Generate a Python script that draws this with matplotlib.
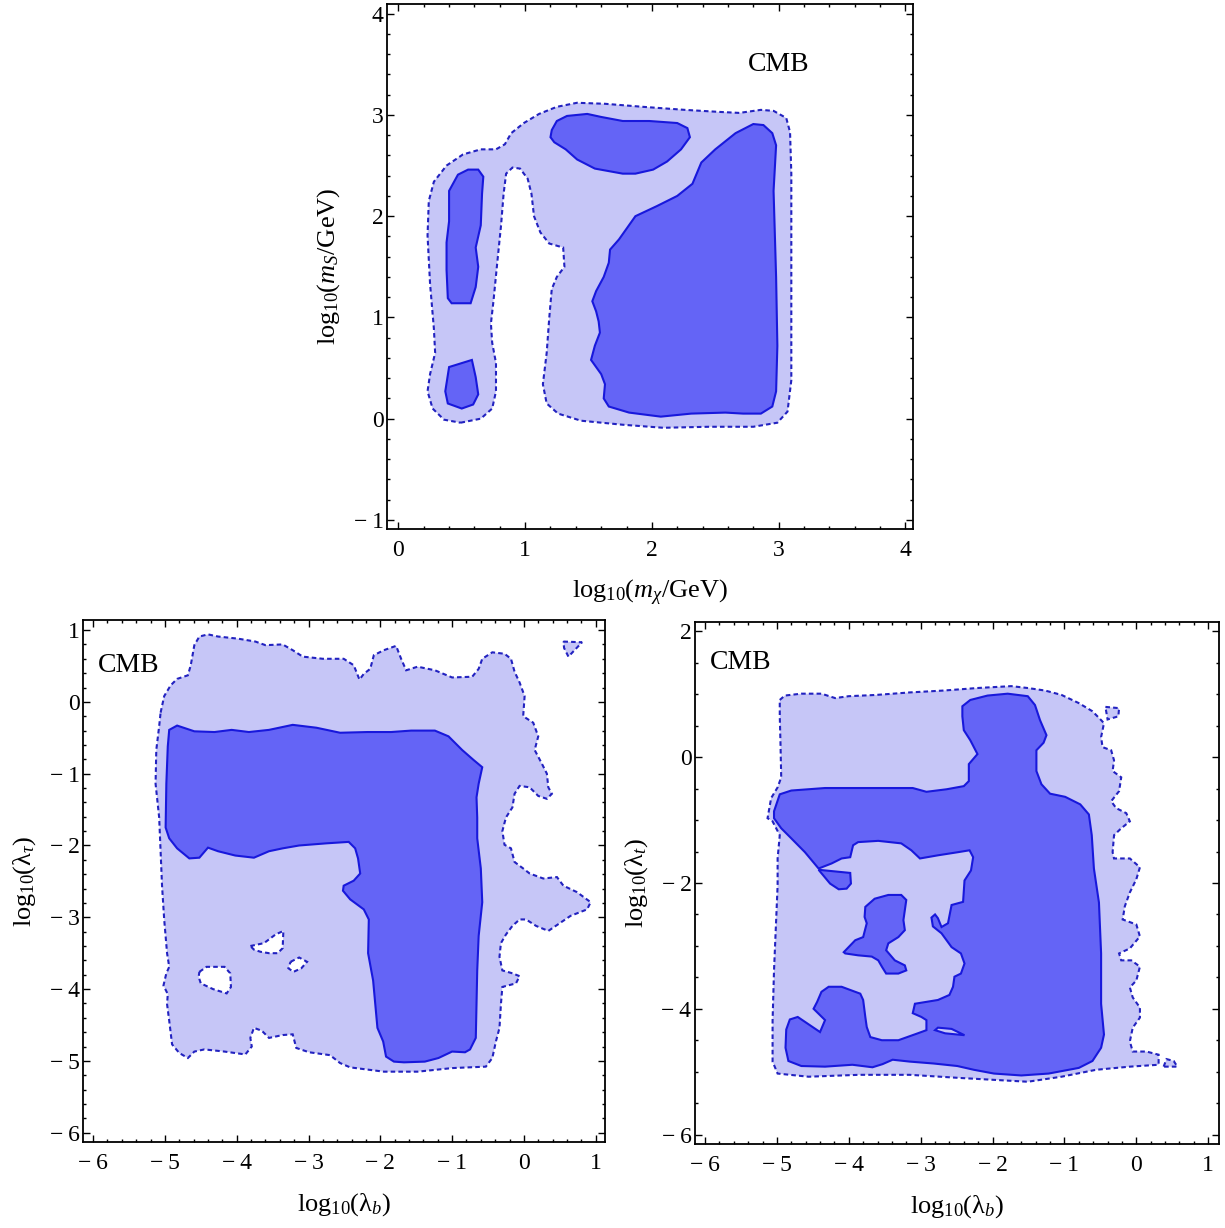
import numpy as np
import matplotlib
matplotlib.use("Agg")
import matplotlib.pyplot as plt
from matplotlib.ticker import MultipleLocator, FuncFormatter

plt.rcParams['font.family'] = ['Liberation Serif', 'DejaVu Serif']
plt.rcParams['mathtext.fontset'] = 'custom'
plt.rcParams['mathtext.rm'] = 'Liberation Serif'
plt.rcParams['mathtext.it'] = 'Liberation Serif:italic'

LIGHT = '#c6c6f7'
DARK = '#6464f6'
EDGE_SOLID = '#1818dc'
EDGE_DASH = '#2222c0'

# ---- top panel: log10(m_chi/GeV) vs log10(m_S/GeV) ----
top_outer = [(0.49,-0.04),(0.65,0.00),(0.74,0.10),(0.77,0.27),(0.77,0.55),(0.74,0.75),(0.73,0.94),
             (0.75,1.16),(0.78,1.54),(0.81,1.91),(0.83,2.22),(0.85,2.42),(0.90,2.48),(0.96,2.47),
             (1.02,2.37),(1.05,2.22),(1.07,2.00),(1.12,1.84),(1.19,1.73),(1.30,1.69),(1.31,1.50),
             (1.25,1.40),(1.21,1.28),(1.19,0.99),(1.17,0.65),(1.14,0.34),(1.17,0.15),(1.26,0.05),
             (1.44,-0.02),(1.77,-0.06),(2.09,-0.09),(2.45,-0.08),(2.80,-0.08),(2.99,-0.04),(3.07,0.07),
             (3.10,0.38),(3.10,1.06),(3.10,1.74),(3.10,2.42),(3.09,2.83),(3.06,2.97),(2.96,3.04),
             (2.86,3.05),(2.69,3.02),(2.53,3.03),(2.26,3.05),(1.93,3.08),(1.63,3.11),(1.41,3.12),
             (1.25,3.08),(1.11,3.01),(0.99,2.92),(0.89,2.82),(0.84,2.71),(0.77,2.66),(0.65,2.66),
             (0.51,2.61),(0.38,2.50),(0.28,2.34),(0.24,2.15),(0.23,1.81),(0.25,1.33),(0.28,0.89),
             (0.29,0.65),(0.25,0.44),(0.23,0.27),(0.27,0.10),(0.36,-0.01)]
top_inner_a = [(0.40,2.25),(0.47,2.41),(0.55,2.46),(0.63,2.46),(0.67,2.39),(0.66,2.22),(0.65,1.91),
               (0.61,1.69),(0.63,1.50),(0.61,1.30),(0.57,1.14),(0.42,1.14),(0.39,1.19),(0.38,1.47),
               (0.38,1.74),(0.40,1.95),(0.40,2.18)]
top_inner_b = [(0.40,0.51),(0.58,0.58),(0.61,0.41),(0.63,0.24),(0.59,0.14),(0.50,0.10),(0.39,0.15),
               (0.37,0.27),(0.39,0.43)]
top_inner_c = [(1.21,2.85),(1.25,2.94),(1.33,2.99),(1.49,3.01),(1.60,2.98),(1.77,2.94),(1.98,2.94),
               (2.20,2.92),(2.28,2.87),(2.30,2.78),(2.23,2.66),(2.12,2.54),(2.01,2.46),(1.87,2.42),
               (1.77,2.42),(1.55,2.47),(1.41,2.56),(1.32,2.66),(1.23,2.73),(1.20,2.78)]
top_inner_d = [(1.67,1.67),(1.74,1.77),(1.87,2.00),(2.04,2.10),(2.20,2.20),(2.32,2.32),(2.39,2.53),
               (2.50,2.66),(2.66,2.82),(2.80,2.91),(2.88,2.90),(2.95,2.82),(2.98,2.70),(2.96,2.25),
               (2.98,1.40),(2.99,0.72),(2.98,0.27),(2.95,0.12),(2.86,0.05),(2.72,0.05),(2.58,0.06),
               (2.31,0.05),(2.07,0.02),(1.82,0.06),(1.66,0.12),(1.62,0.20),(1.63,0.34),(1.60,0.44),
               (1.56,0.51),(1.52,0.58),(1.55,0.72),(1.59,0.85),(1.58,0.96),(1.56,1.06),(1.53,1.16),
               (1.56,1.26),(1.62,1.40),(1.66,1.54)]

# ---- bottom left panel: log10(lambda_b) vs log10(lambda_tau) ----
bl_outer = [(-5.06,-0.15),(-5.01,0.08),(-4.92,0.23),(-4.83,0.32),(-4.68,0.37),(-4.64,0.51),(-4.59,0.79),
            (-4.52,0.91),(-4.40,0.94),(-4.26,0.91),(-3.98,0.88),(-3.74,0.84),(-3.60,0.79),(-3.36,0.80),
            (-3.22,0.72),(-3.08,0.63),(-2.80,0.60),(-2.51,0.60),(-2.37,0.51),(-2.29,0.31),(-2.23,0.39),
            (-2.14,0.46),(-2.09,0.65),(-1.95,0.72),(-1.78,0.78),(-1.71,0.60),(-1.64,0.44),(-1.48,0.49),
            (-1.24,0.44),(-1.00,0.34),(-0.72,0.35),(-0.63,0.46),(-0.58,0.60),(-0.44,0.69),(-0.27,0.67),
            (-0.18,0.60),(-0.13,0.42),(-0.06,0.27),(0.01,0.08),(-0.01,-0.20),(0.13,-0.29),(0.20,-0.48),
            (0.15,-0.67),(0.25,-0.86),(0.32,-1.00),(0.34,-1.19),(0.39,-1.28),(0.32,-1.35),(0.20,-1.31),
            (0.08,-1.19),(-0.06,-1.17),(-0.13,-1.28),(-0.16,-1.47),(-0.25,-1.61),(-0.30,-1.80),
            (-0.27,-1.99),(-0.18,-2.04),(-0.13,-2.23),(-0.01,-2.32),(0.08,-2.39),(0.27,-2.46),
            (0.46,-2.44),(0.55,-2.56),(0.74,-2.65),(0.93,-2.79),(0.88,-2.89),(0.65,-2.98),(0.34,-3.19),
            (0.17,-3.12),(0.03,-3.03),(-0.06,-3.03),(-0.16,-3.12),(-0.25,-3.24),(-0.32,-3.36),
            (-0.34,-3.55),(-0.30,-3.74),(-0.16,-3.78),(-0.06,-3.82),(-0.11,-3.92),(-0.30,-3.97),
            (-0.32,-4.21),(-0.34,-4.54),(-0.39,-4.73),(-0.44,-4.96),(-0.53,-5.08),(-1.00,-5.10),
            (-1.48,-5.15),(-1.95,-5.15),(-2.42,-5.09),(-2.56,-5.03),(-2.70,-4.92),(-2.99,-4.88),
            (-3.17,-4.82),(-3.22,-4.63),(-3.36,-4.64),(-3.55,-4.68),(-3.65,-4.58),(-3.76,-4.54),
            (-3.81,-4.68),(-3.79,-4.80),(-3.88,-4.91),(-4.17,-4.87),(-4.45,-4.84),(-4.59,-4.87),
            (-4.68,-4.96),(-4.80,-4.89),(-4.90,-4.77),(-4.94,-4.44),(-4.97,-4.21),(-4.96,-4.07),
            (-5.02,-3.95),(-4.98,-3.78),(-4.94,-3.69),(-4.97,-3.50),(-5.01,-3.03),(-5.04,-2.56),
            (-5.06,-2.08),(-5.08,-1.61),(-5.13,-1.14),(-5.12,-0.67),(-5.08,-0.34)]
bl_hole_a = [(-4.52,-3.76),(-4.42,-3.69),(-4.17,-3.69),(-4.09,-3.78),(-4.08,-3.97),(-4.14,-4.06),
             (-4.33,-4.00),(-4.50,-3.92),(-4.53,-3.83)]
bl_hole_b = [(-3.81,-3.40),(-3.62,-3.36),(-3.46,-3.24),(-3.35,-3.19),(-3.36,-3.43),(-3.43,-3.50),
             (-3.55,-3.50),(-3.67,-3.48),(-3.76,-3.45)]
bl_hole_c = [(-3.25,-3.62),(-3.13,-3.56),(-3.02,-3.62),(-3.10,-3.71),(-3.21,-3.76),(-3.28,-3.71)]
bl_island = [(0.55,0.84),(0.81,0.83),(0.62,0.63),(0.56,0.75)]
bl_inner = [(-4.94,-0.39),(-4.83,-0.33),(-4.59,-0.41),(-4.31,-0.42),(-4.07,-0.39),(-3.83,-0.42),
            (-3.55,-0.39),(-3.22,-0.32),(-2.89,-0.36),(-2.56,-0.43),(-2.18,-0.42),(-1.85,-0.42),
            (-1.57,-0.40),(-1.24,-0.40),(-1.05,-0.48),(-0.86,-0.67),(-0.70,-0.81),(-0.58,-0.91),
            (-0.63,-1.14),(-0.66,-1.33),(-0.65,-1.61),(-0.65,-1.90),(-0.60,-2.32),(-0.58,-2.79),
            (-0.63,-3.26),(-0.65,-3.74),(-0.66,-4.21),(-0.67,-4.68),(-0.75,-4.84),(-0.82,-4.88),
            (-1.00,-4.87),(-1.19,-4.96),(-1.38,-5.01),(-1.67,-5.02),(-1.81,-5.01),(-1.92,-4.94),
            (-1.96,-4.73),(-2.04,-4.54),(-2.07,-4.21),(-2.10,-3.88),(-2.17,-3.50),(-2.16,-3.03),
            (-2.23,-2.89),(-2.42,-2.75),(-2.52,-2.63),(-2.51,-2.56),(-2.37,-2.49),(-2.28,-2.39),
            (-2.31,-2.18),(-2.35,-2.04),(-2.44,-1.95),(-2.75,-1.97),(-3.13,-2.00),(-3.36,-2.04),
            (-3.55,-2.08),(-3.76,-2.17),(-4.02,-2.14),(-4.26,-2.08),(-4.40,-2.03),(-4.52,-2.17),
            (-4.66,-2.18),(-4.83,-2.04),(-4.94,-1.90),(-4.99,-1.75),(-4.98,-1.14),(-4.96,-0.62)]

# ---- bottom right panel: log10(lambda_b) vs log10(lambda_t) ----
br_outer = [(-4.96,0.91),(-4.89,0.98),(-4.66,1.01),(-4.38,1.01),(-4.19,0.94),(-4.00,0.97),(-3.62,0.99),
            (-3.15,1.03),(-2.68,1.06),(-2.21,1.10),(-1.74,1.13),(-1.51,1.10),(-1.27,1.06),(-1.04,0.99),
            (-0.80,0.86),(-0.61,0.73),(-0.49,0.59),(-0.45,0.54),(-0.49,0.32),(-0.47,0.16),(-0.35,0.11),
            (-0.31,-0.05),(-0.33,-0.22),(-0.21,-0.32),(-0.24,-0.54),(-0.35,-0.70),(-0.28,-0.81),
            (-0.14,-0.89),(-0.09,-1.02),(-0.21,-1.13),(-0.31,-1.24),(-0.33,-1.51),(-0.31,-1.61),
            (-0.09,-1.61),(0.05,-1.75),(0.00,-1.94),(-0.09,-2.15),(-0.16,-2.37),(-0.19,-2.58),
            (0.00,-2.66),(0.05,-2.85),(-0.09,-3.04),(-0.24,-3.12),(-0.21,-3.23),(-0.07,-3.23),
            (0.05,-3.33),(0.00,-3.55),(-0.09,-3.66),(-0.05,-3.82),(0.05,-3.98),(0.05,-4.14),
            (-0.05,-4.30),(-0.09,-4.52),(-0.05,-4.68),(0.14,-4.68),(0.31,-4.73),(0.31,-4.89),
            (-0.09,-4.92),(-0.56,-4.97),(-1.04,-5.08),(-1.51,-5.16),(-1.98,-5.13),(-2.45,-5.10),
            (-3.15,-5.05),(-3.86,-5.05),(-4.56,-5.08),(-4.99,-5.03),(-5.06,-4.84),(-5.06,-4.19),
            (-5.04,-3.39),(-5.01,-2.58),(-4.99,-2.04),(-4.99,-1.61),(-4.96,-1.24),(-5.06,-1.02),
            (-5.13,-0.97),(-5.08,-0.65),(-4.99,-0.48),(-4.94,-0.32),(-4.95,0.22),(-4.96,0.65)]
br_island_a = [(-0.43,0.80),(-0.24,0.78),(-0.25,0.65),(-0.40,0.60)]
br_island_b = [(0.38,-4.92),(0.42,-4.80),(0.52,-4.83),(0.57,-4.92)]
br_inner = [(-5.04,-0.86),(-4.96,-0.59),(-4.80,-0.53),(-4.33,-0.49),(-3.86,-0.49),(-3.39,-0.49),
            (-3.11,-0.49),(-2.92,-0.55),(-2.64,-0.51),(-2.40,-0.46),(-2.33,-0.38),(-2.33,-0.11),
            (-2.21,0.05),(-2.31,0.27),(-2.40,0.43),(-2.42,0.65),(-2.42,0.81),(-2.31,0.91),(-2.07,0.98),
            (-1.79,1.01),(-1.51,0.97),(-1.41,0.83),(-1.34,0.59),(-1.25,0.35),(-1.29,0.23),(-1.39,0.11),
            (-1.39,-0.22),(-1.32,-0.43),(-1.20,-0.58),(-0.99,-0.63),(-0.78,-0.75),(-0.66,-0.91),
            (-0.62,-1.24),(-0.59,-1.77),(-0.52,-2.31),(-0.49,-3.12),(-0.49,-3.92),(-0.45,-4.41),
            (-0.49,-4.62),(-0.61,-4.83),(-0.80,-4.94),(-1.22,-5.03),(-1.60,-5.06),(-1.98,-5.03),
            (-2.26,-4.97),(-2.49,-4.91),(-2.82,-4.87),(-3.15,-4.84),(-3.39,-4.81),(-3.53,-4.88),
            (-3.67,-4.93),(-3.95,-4.89),(-4.33,-4.92),(-4.66,-4.91),(-4.84,-4.83),(-4.88,-4.62),
            (-4.87,-4.33),(-4.82,-4.17),(-4.71,-4.13),(-4.40,-4.37),(-4.33,-4.18),(-4.49,-4.00),
            (-4.44,-3.89),(-4.38,-3.73),(-4.28,-3.65),(-4.10,-3.65),(-3.84,-3.76),(-3.80,-3.86),
            (-3.77,-4.13),(-3.75,-4.29),(-3.70,-4.45),(-3.54,-4.50),(-3.31,-4.50),(-3.04,-4.39),
            (-2.92,-4.34),(-2.92,-4.18),(-2.99,-4.13),(-3.11,-4.07),(-3.08,-3.92),(-2.76,-3.86),
            (-2.60,-3.78),(-2.55,-3.65),(-2.53,-3.49),(-2.44,-3.44),(-2.39,-3.28),(-2.44,-3.12),
            (-2.57,-3.02),(-2.71,-2.80),(-2.83,-2.69),(-2.85,-2.55),(-2.80,-2.50),(-2.76,-2.56),
            (-2.71,-2.70),(-2.62,-2.64),(-2.57,-2.35),(-2.41,-2.30),(-2.39,-1.96),(-2.30,-1.80),
            (-2.27,-1.59),(-2.32,-1.48),(-2.48,-1.51),(-2.76,-1.56),(-3.01,-1.61),(-3.13,-1.48),
            (-3.27,-1.37),(-3.59,-1.33),(-3.87,-1.35),(-3.94,-1.40),(-3.98,-1.59),(-4.10,-1.61),
            (-4.24,-1.69),(-4.42,-1.77),(-4.61,-1.51),(-4.80,-1.29),(-4.94,-1.13),(-5.04,-0.97)]
br_inner_tri = [(-4.42,-1.79),(-3.98,-1.84),(-3.97,-2.01),(-4.03,-2.09),(-4.14,-2.10),(-4.26,-2.01)]
br_inner_isle = [(-3.77,-2.38),(-3.64,-2.25),(-3.45,-2.19),(-3.27,-2.19),(-3.20,-2.27),(-3.22,-2.43),
                 (-3.24,-2.59),(-3.22,-2.75),(-3.31,-2.86),(-3.45,-2.96),(-3.48,-3.07),(-3.36,-3.23),
                 (-3.22,-3.31),(-3.20,-3.39),(-3.31,-3.44),(-3.48,-3.44),(-3.54,-3.33),(-3.59,-3.23),
                 (-3.68,-3.17),(-3.87,-3.15),(-4.05,-3.12),(-4.07,-3.10),(-3.91,-2.91),(-3.80,-2.86),
                 (-3.75,-2.64),(-3.78,-2.54)]
br_light_gap = [(-2.80,-4.34),(-2.76,-4.30),(-2.57,-4.32),(-2.39,-4.42),(-2.66,-4.39)]


def region(ax, pts, face, dashed, z):
    #filled polygon with the contour line round it
    xy = np.array(pts)
    if dashed:
        ax.fill(xy[:, 0], xy[:, 1], facecolor=face, edgecolor=EDGE_DASH,
                linewidth=1.5, linestyle=(0, (2.2, 1.5)), zorder=z)
    else:
        ax.fill(xy[:, 0], xy[:, 1], facecolor=face, edgecolor=EDGE_SOLID,
                linewidth=1.5, zorder=z)


def tick_text(v, pos):
    #minus with a little gap, as in the original
    if abs(v) < 1e-9:
        return '0'
    if v < 0:
        return '\u2212\u2009%g' % (-v)
    return '%g' % v


def style_axes(ax, xlim, ylim, xmaj, ymaj, xmin, ymin, xlabel, ylabel):
    ax.set_xlim(*xlim)
    ax.set_ylim(*ylim)
    ax.xaxis.set_major_locator(MultipleLocator(xmaj))
    ax.yaxis.set_major_locator(MultipleLocator(ymaj))
    ax.xaxis.set_minor_locator(MultipleLocator(xmin))
    ax.yaxis.set_minor_locator(MultipleLocator(ymin))
    ax.xaxis.set_major_formatter(FuncFormatter(tick_text))
    ax.yaxis.set_major_formatter(FuncFormatter(tick_text))
    ax.tick_params(which='both', direction='in', top=True, right=True, width=1.0, labelsize=17)
    ax.tick_params(which='major', length=5)
    ax.tick_params(which='minor', length=2.5)
    ax.tick_params(axis='x', pad=8)
    ax.tick_params(axis='y', pad=2.5)
    for s in ax.spines.values():
        s.set_linewidth(1.3)
    ax.set_xlabel(xlabel, fontsize=19, labelpad=12)
    ax.set_ylabel(ylabel, fontsize=19, labelpad=8)


def main():
    fig = plt.figure(figsize=(12.25, 12.28), dpi=100)
    ax_top = fig.add_axes([0.3159, 0.5692, 0.4294, 0.4279])
    ax_bl = fig.add_axes([0.0678, 0.0700, 0.4261, 0.4251])
    ax_br = fig.add_axes([0.5673, 0.0684, 0.4278, 0.4251])

    # top panel
    region(ax_top, top_outer, LIGHT, True, 1)
    for poly in [top_inner_a, top_inner_b, top_inner_c, top_inner_d]:
        region(ax_top, poly, DARK, False, 2)
    ax_top.text(3.0, 3.5, 'CMB', fontsize=20, ha='center', va='center')
    style_axes(ax_top, (-0.09, 4.06), (-1.09, 4.10), 1, 1, 0.2, 0.2,
               r'log$_{10}$($m_\chi$/GeV)', r'log$_{10}$($m_S$/GeV)')

    # bottom left
    region(ax_bl, bl_outer, LIGHT, True, 1)
    region(ax_bl, bl_island, LIGHT, True, 1)
    for hole in [bl_hole_a, bl_hole_b, bl_hole_c]:
        region(ax_bl, hole, 'white', True, 1.5)
    region(ax_bl, bl_inner, DARK, False, 2)
    ax_bl.text(-5.5, 0.5, 'CMB', fontsize=20, ha='center', va='center')
    style_axes(ax_bl, (-6.14, 1.13), (-6.13, 1.14), 1, 1, 0.2, 0.2,
               r'log$_{10}$(λ$_{b}$)', r'log$_{10}$(λ$_{\tau}$)')

    # bottom right
    region(ax_br, br_outer, LIGHT, True, 1)
    region(ax_br, br_island_a, LIGHT, True, 1)
    region(ax_br, br_island_b, LIGHT, True, 1)
    region(ax_br, br_inner, DARK, False, 2)
    region(ax_br, br_inner_tri, DARK, False, 2)
    region(ax_br, br_inner_isle, DARK, False, 2)
    region(ax_br, br_light_gap, LIGHT, False, 2.5)
    ax_br.text(-5.5, 1.5, 'CMB', fontsize=20, ha='center', va='center')
    style_axes(ax_br, (-6.14, 1.15), (-6.15, 2.15), 1, 2, 0.2, 0.5,
               r'log$_{10}$(λ$_{b}$)', r'log$_{10}$(λ$_{t}$)')

    fig.savefig('out.png', dpi=100)


if __name__ == "__main__":
    main()
